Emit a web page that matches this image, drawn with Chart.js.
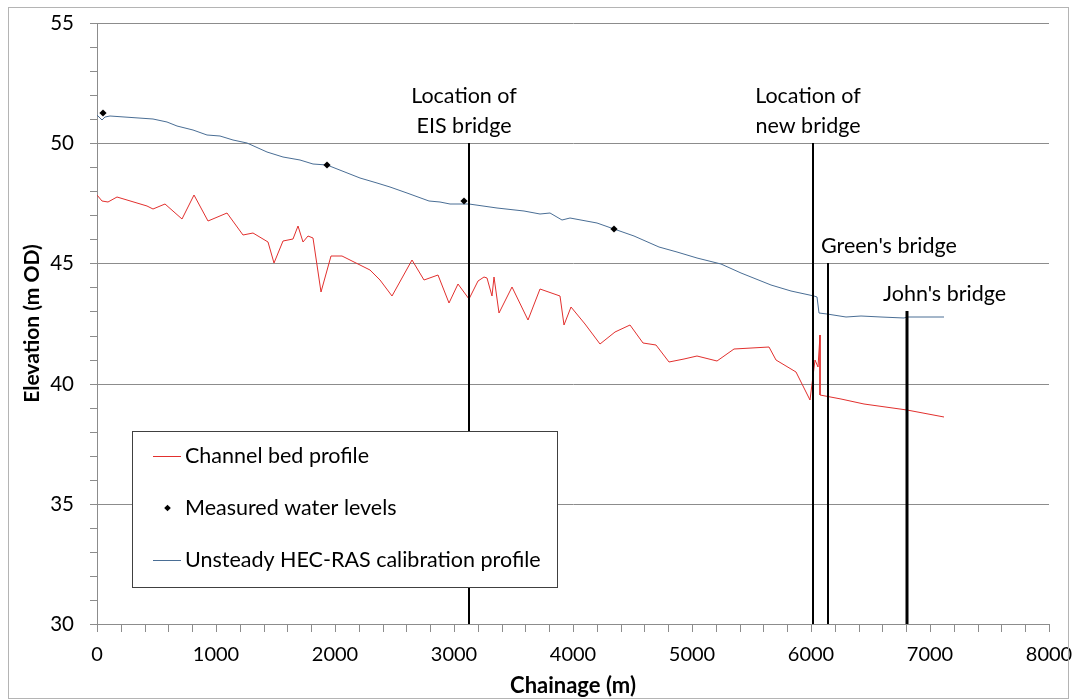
<!DOCTYPE html>
<html>
<head>
<meta charset="utf-8">
<script src="https://cdn.jsdelivr.net/npm/chart.js@4/dist/chart.umd.min.js"></script>
<style>
  html, body { margin: 0; padding: 0; background: #fff; }
  canvas { display: block; }
</style>
</head>
<body>
<canvas id="profile" width="1077" height="700"></canvas>
<script>
// Channel bed (surveyed invert) along the reach
const bedChainage = [0, 40, 95, 165, 333, 417, 474, 572, 712, 818, 936, 1091, 1231, 1315, 1441, 1491,
  1567, 1651, 1693, 1735, 1777, 1819, 1881, 1965, 2057, 2212, 2296, 2380, 2478, 2646, 2744, 2862,
  2955, 3031, 3123, 3199, 3255, 3275, 3319, 3333, 3375, 3487, 3619, 3720, 3894, 3922, 3984, 4104,
  4230, 4357, 4477, 4589, 4701, 4810, 4931, 5044, 5206, 5352, 5646, 5702, 5870, 5991, 6030, 6058,
  6072, 6075, 6249, 6445, 6810, 7118];
const bedLevel = [47.85, 47.61, 47.55, 47.75, 47.5, 47.39, 47.25, 47.47, 46.83, 47.85, 46.76, 47.08, 46.18, 46.25, 45.88, 45.0,
  45.94, 46.0, 46.57, 45.88, 46.15, 46.04, 43.82, 45.32, 45.3, 44.95, 44.72, 44.3, 43.64, 45.14, 44.33, 44.5,
  43.37, 44.14, 43.51, 44.28, 44.44, 44.4, 43.64, 44.44, 42.92, 44.03, 42.64, 43.92, 43.64, 42.43, 43.19, 42.5,
  41.64, 42.15, 42.43, 41.69, 41.6, 40.89, 41.04, 41.14, 40.93, 41.46, 41.53, 41.0, 40.48, 39.33, 40.97, 40.69,
  42.01, 39.51, 39.37, 39.17, 38.89, 38.61];

// Unsteady HEC-RAS calibration water surface
const hecChainage = [0, 40, 67, 109, 474, 586, 670, 810, 923, 1034, 1146, 1259, 1427, 1567, 1707, 1819,
  1932, 2212, 2352, 2464, 2605, 2787, 2885, 2969, 3123, 3362, 3586, 3726, 3810, 3909, 3978, 4203,
  4348, 4511, 4721, 4875, 5044, 5240, 5408, 5660, 5829, 6025, 6053, 6067, 6136, 6291, 6417, 6585,
  6781, 6810, 7118];
const hecLevel = [51.18, 50.97, 51.1, 51.13, 51.01, 50.9, 50.72, 50.55, 50.35, 50.28, 50.14, 50.0, 49.65, 49.44, 49.3, 49.14,
  49.08, 48.56, 48.33, 48.17, 47.92, 47.6, 47.54, 47.47, 47.46, 47.29, 47.19, 47.05, 47.08, 46.8, 46.87, 46.69,
  46.43, 46.14, 45.67, 45.49, 45.21, 44.96, 44.61, 44.12, 43.85, 43.64, 43.61, 42.92, 42.89, 42.78, 42.82, 42.78,
  42.71, 42.78, 42.75];

// Gauged water levels
const measuredChainage = [53, 1932, 3087, 4348];
const measuredLevel = [51.25, 49.1, 47.61, 46.43];

// Bridges: chainage, level of the top of the marker line, caption lines
const bridgeChainage = [3123, 6019, 6142, 6810];
const bridgeTop = [50, 50, 45, 43];
const bridgeCaption = [["Location of", "EIS bridge"], ["Location of", "new bridge"], ["Green's bridge"], ["John's bridge"]];

// Axis ranges and tick spacing
const xRange = [0, 8000];
const yRange = [30, 55];
const xMajor = 1000, xMinor = 200;
const yMajor = 5, yMinor = 1;

const FONT = 'Lato, "Noto Sans", sans-serif';
const GRID = '#8c8c8c';
const BED_COLOR = '#e2302e';
const HEC_COLOR = '#4a6e95';
const MEASURED_COLOR = '#000';

const pts = (xs, ys) => xs.map((x, i) => ({ x, y: ys[i] }));

const bridgeSets = bridgeChainage.map((c, i) => ({
  label: bridgeCaption[i].join(' '),
  data: [{ x: c, y: bridgeTop[i] }, { x: c, y: yRange[0] }],
  showLine: true,
  borderColor: '#000',
  borderWidth: i === 3 ? 3 : 2,
  pointRadius: 0,
  order: 1
}));

// Caption placement relative to each bridge line (pixels)
const captionStyle = [
  { align: 'center', dx: -5 },
  { align: 'center', dx: -5 },
  { align: 'left', dx: -7 },
  { align: 'left', dx: -24 }
];

// Legend entries: [label, kind, colour]
const legendEntries = [
  ['Channel bed profile', 'line', BED_COLOR],
  ['Measured water levels', 'point', MEASURED_COLOR],
  ['Unsteady HEC-RAS calibration profile', 'line', HEC_COLOR]
];

const whiteBackground = {
  id: 'whiteBackground',
  beforeDraw(chart) {
    const ctx = chart.ctx;
    ctx.save();
    ctx.fillStyle = '#fff';
    ctx.fillRect(0, 0, chart.width, chart.height);
    ctx.restore();
  },
  afterDraw(chart) {
    const ctx = chart.ctx;
    ctx.save();
    ctx.strokeStyle = '#b4b4b4';
    ctx.lineWidth = 1;
    ctx.strokeRect(8.5, 7.5, chart.width - 17, chart.height - 9);
    ctx.restore();
  }
};

const bridgeCaptions = {
  id: 'bridgeCaptions',
  afterDatasetsDraw(chart) {
    const ctx = chart.ctx, xs = chart.scales.x, ys = chart.scales.y;
    ctx.save();
    ctx.fillStyle = '#000';
    ctx.font = '21.5px ' + FONT;
    ctx.textBaseline = 'alphabetic';
    bridgeChainage.forEach((c, i) => {
      const px = xs.getPixelForValue(c), py = ys.getPixelForValue(bridgeTop[i]);
      const st = captionStyle[i], lines = bridgeCaption[i];
      ctx.textAlign = st.align;
      lines.forEach((t, k) => {
        const base = py - 10.5 - (lines.length - 1 - k) * 29.3;
        ctx.fillText(t, px + st.dx, base);
      });
    });
    ctx.restore();
  }
};

const boxLegend = {
  id: 'boxLegend',
  afterDraw(chart) {
    const ctx = chart.ctx, a = chart.chartArea;
    const left = Math.round(a.left + 35), top = Math.round(a.top + 408), w = 425, h = 156;
    ctx.save();
    ctx.fillStyle = '#fff';
    ctx.fillRect(left, top, w, h);
    ctx.strokeStyle = '#404040';
    ctx.lineWidth = 1;
    ctx.strokeRect(left + 0.5, top + 0.5, w, h);
    ctx.font = '21.5px ' + FONT;
    ctx.textBaseline = 'middle';
    ctx.textAlign = 'left';
    legendEntries.forEach(([label, kind, colour], i) => {
      const cy = top + 25 + i * 52;
      if (kind === 'point') {
        ctx.fillStyle = colour;
        ctx.beginPath();
        ctx.moveTo(left + 35.5, cy - 3.3);
        ctx.lineTo(left + 38.8, cy);
        ctx.lineTo(left + 35.5, cy + 3.3);
        ctx.lineTo(left + 32.2, cy);
        ctx.closePath();
        ctx.fill();
      } else {
        ctx.strokeStyle = colour;
        ctx.lineWidth = 1;
        ctx.beginPath();
        ctx.moveTo(left + 21, cy + 0.5);
        ctx.lineTo(left + 49, cy + 0.5);
        ctx.stroke();
      }
      ctx.fillStyle = '#000';
      ctx.fillText(label, left + 53, cy);
    });
    ctx.restore();
  }
};

new Chart(document.getElementById('profile'), {
  type: 'scatter',
  data: {
    datasets: [
      {
        label: legendEntries[0][0],
        data: pts(bedChainage, bedLevel),
        showLine: true,
        borderColor: BED_COLOR,
        borderWidth: 1,
        pointRadius: 0,
        order: 2
      },
      {
        label: legendEntries[1][0],
        data: pts(measuredChainage, measuredLevel),
        showLine: false,
        pointStyle: 'rectRot',
        pointRadius: 3.6,
        pointBorderWidth: 0,
        pointBackgroundColor: MEASURED_COLOR,
        pointBorderColor: MEASURED_COLOR,
        order: 0
      },
      {
        label: legendEntries[2][0],
        data: pts(hecChainage, hecLevel),
        showLine: true,
        borderColor: HEC_COLOR,
        borderWidth: 1,
        pointRadius: 0,
        order: 2
      },
      ...bridgeSets
    ]
  },
  options: {
    responsive: false,
    animation: false,
    devicePixelRatio: 1,
    layout: { padding: { top: 23, right: 28, bottom: 0, left: 0 } },
    plugins: { legend: { display: false }, tooltip: { enabled: false } },
    elements: { line: { tension: 0 } },
    scales: {
      x: {
        type: 'linear',
        min: xRange[0], max: xRange[1],
        alignToPixels: true,
        afterFit(s) { s.height = 76; s.paddingLeft = 0; s.paddingRight = 0; },
        ticks: {
          stepSize: xMinor,
          autoSkip: false,
          maxRotation: 0,
          padding: 11,
          color: '#000',
          font: { family: FONT, size: 20 },
          callback: v => (v % xMajor === 0 ? String(v) : '')
        },
        grid: { drawOnChartArea: false, color: GRID, tickColor: GRID, tickLength: 8 },
        border: { color: GRID, width: 1 },
        title: {
          display: true, text: 'Chainage (m)', color: '#000',
          font: { family: FONT, size: 22, weight: 'bold' },
          padding: { top: 0, bottom: 1 }
        }
      },
      y: {
        type: 'linear',
        min: yRange[0], max: yRange[1],
        alignToPixels: true,
        afterFit(s) { s.width = 97; s.paddingTop = 0; s.paddingBottom = 0; },
        ticks: {
          stepSize: yMinor,
          autoSkip: false,
          padding: 16,
          color: '#000',
          font: { family: FONT, size: 20.5 },
          callback: v => (v % yMajor === 0 ? String(v) : '')
        },
        grid: {
          color: c => (c.tick && c.tick.value % yMajor === 0 ? GRID : 'rgba(0,0,0,0)'),
          tickColor: GRID,
          tickLength: 7
        },
        border: { color: GRID, width: 1 },
        title: {
          display: true, text: 'Elevation (m OD)', color: '#000',
          font: { family: FONT, size: 21, weight: 'bold' },
          padding: { top: 20, bottom: 0 }
        }
      }
    }
  },
  plugins: [whiteBackground, bridgeCaptions, boxLegend]
});
</script>
</body>
</html>
